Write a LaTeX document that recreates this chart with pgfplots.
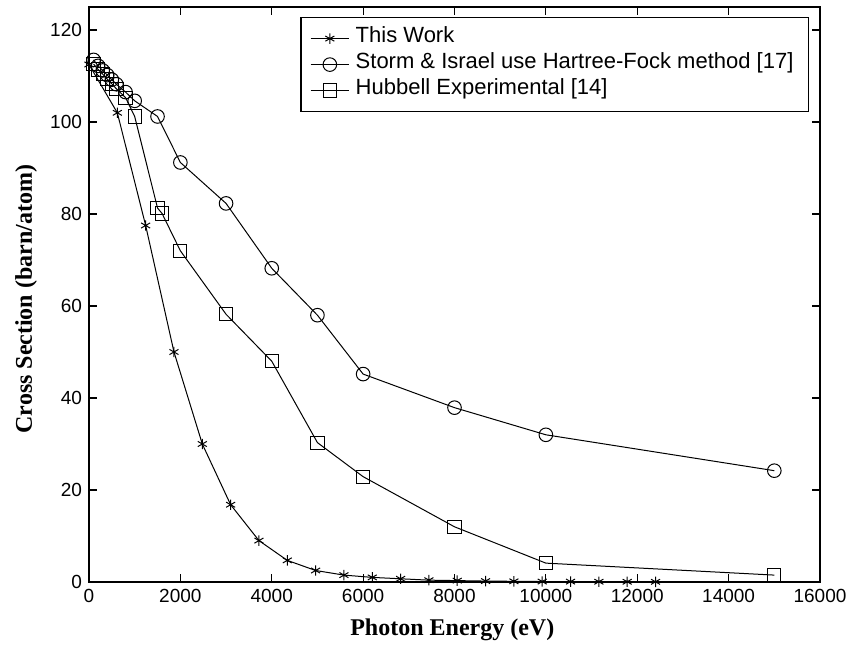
\documentclass[border=0pt]{standalone}
\usepackage{fontspec}
\setmainfont{Liberation Sans}
\newfontfamily\serifbf{Liberation Serif}
\usepackage{pgfplots}
\pgfplotsset{compat=1.18}
\begin{document}
\begin{tikzpicture}
\path[use as bounding box] (-44.5pt,-32pt) rectangle (380.5pt,291pt);
\begin{axis}[at={(0,0)}, anchor=south west, scale only axis,
  width=365.5pt, height=287.5pt,
  xmin=0, xmax=16000, ymin=0, ymax=125,
  xtick={0,2000,...,16000}, ytick={0,20,...,120},
  scaled x ticks=false,
  /pgf/number format/assume math mode=true,
  xticklabel style={/pgf/number format/1000 sep={}},
  tick label style={font=\fontsize{9.5}{11}\selectfont},
  tick align=inside, major tick length=4pt,
  axis line style={line width=0.7pt}, every tick/.style={line width=0.6pt, black},
  xlabel={Photon Energy (eV)}, ylabel={Cross Section (barn/atom)},
  every axis x label/.style={at={(axis description cs:0.497,-0.0835)}, anchor=center, font=\serifbf\bfseries\fontsize{12}{14}\selectfont},
  every axis y label/.style={at={(axis description cs:-0.0862,0.492)}, rotate=90, anchor=center, font=\serifbf\bfseries\fontsize{12}{14}\selectfont},
  legend style={at={(axis description cs:0.985,0.9826)}, anchor=north east, draw=black, line width=0.6pt,
    font=\fontsize{11}{13}\selectfont, row sep=0pt, inner xsep=4.5pt, inner ysep=4pt,
    nodes={inner xsep=3pt, inner ysep=0pt, text height=8.5pt, text depth=4.5pt}},
  legend cell align=left,
  legend image code/.code={\draw[mark repeat=2,mark phase=2] plot coordinates {(0cm,0cm)(0.34cm,0cm)(0.68cm,0cm)};},
  every axis plot/.append style={black, line width=0.5pt, mark options={solid, line width=0.5pt, fill=white}},
]
\addplot[mark=asterisk, mark size=2.6pt] coordinates {
(0,112.5) (620,102) (1240,77.5) (1860,50) (2480,30) (3100,16.8) (3720,9) (4340,4.7)
(4960,2.5) (5580,1.5) (6200,1.0) (6820,0.7) (7440,0.4) (8060,0.3) (8680,0.2) (9300,0.15)
(9920,0.1) (10540,0.08) (11160,0.06) (11780,0.05) (12400,0.04)};
\addlegendentry{This Work}
\addplot[mark=o, mark size=3.4pt] coordinates {
(100,113.5) (200,112.2) (300,111.2) (400,110.2) (500,109.2) (600,108.2) (800,106.5) (1000,104.6)
(1500,101.2) (2000,91.2) (3000,82.3) (4000,68.2) (5000,58) (6000,45.2) (8000,37.9) (10000,32) (15000,24.2)};
\addlegendentry{Storm \& Israel use Hartree-Fock method [17]}
\addplot[mark=square, mark size=3.3pt] coordinates {
(100,112.6) (200,111.4) (300,110.4) (400,109.3) (500,108.3) (600,107.2) (800,105.3) (1000,101.2)
(1500,81.3) (1600,80.1) (2000,72) (3000,58.2) (4000,48) (5000,30.3) (6000,22.9) (8000,12) (10000,4.1) (15000,1.5)};
\addlegendentry{Hubbell Experimental [14]}
\end{axis}
\end{tikzpicture}
\end{document}
